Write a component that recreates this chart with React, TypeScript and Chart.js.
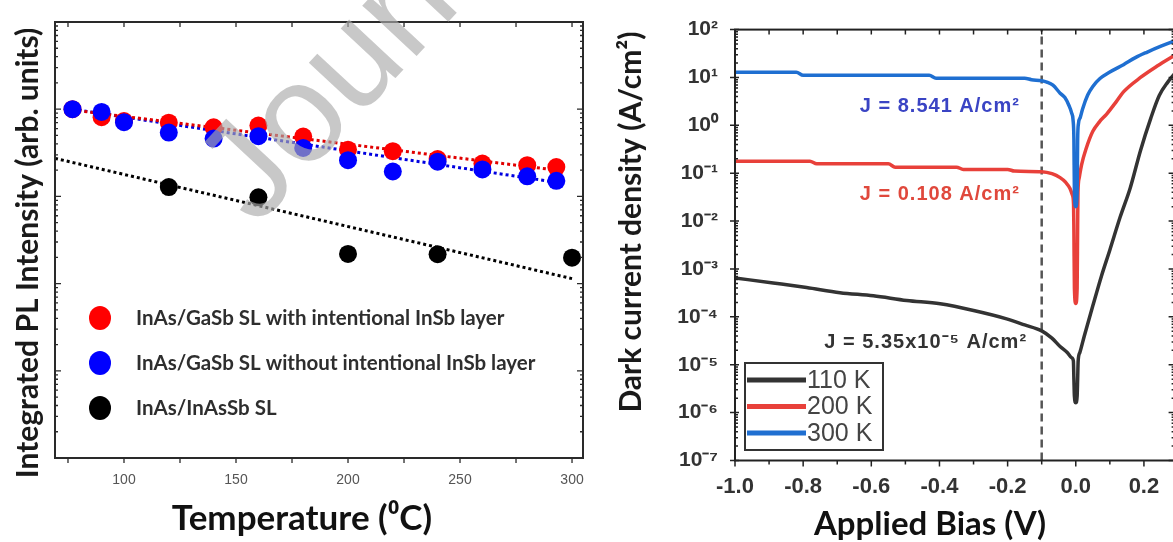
import React, { useEffect, useRef } from "react";
import { Chart, registerables } from "chart.js";

Chart.register(...registerables);

// ---------------- Left panel: integrated PL vs temperature ----------------
const tempWithInSb = [77, 90, 100, 120, 140, 160, 180, 200, 220, 240, 260, 280, 293];
const plWithInSb = [1.0, 0.81, 0.73, 0.7, 0.62, 0.65, 0.485, 0.343, 0.33, 0.268, 0.238, 0.228, 0.217];
const tempWithoutInSb = [77, 90, 100, 120, 140, 160, 180, 200, 220, 240, 260, 280, 293];
const plWithoutInSb = [1.0, 0.93, 0.71, 0.54, 0.46, 0.49, 0.36, 0.26, 0.193, 0.25, 0.204, 0.17, 0.151];
const tempInAsSb = [120, 160, 200, 240, 300];
const plInAsSb = [0.128, 0.0975, 0.0219, 0.0217, 0.0198];
const fitTempGaSb = [77, 293];
const fitPlWithInSb = [0.98, 0.2];
const fitPlWithoutInSb = [1.0, 0.145];
const fitTempInAsSb = [69.2, 300];
const fitPlInAsSb = [0.273, 0.0114];
const plSeriesLabels = [
  "InAs/GaSb SL with intentional InSb layer",
  "InAs/GaSb SL without intentional InSb layer",
  "InAs/InAsSb SL",
];
const tempTickLabels = [100, 150, 200, 250, 300];

// ---------------- Right panel: dark current density vs bias ----------------
const bias110 = [-1.0, -0.888, -0.79, -0.692, -0.594, -0.496, -0.398, -0.3, -0.203, -0.15, -0.1, -0.07, -0.046, -0.025, -0.012, -0.007, -0.0055, -0.004, 0, 0.004, 0.0055, 0.007, 0.012, 0.025, 0.05, 0.075, 0.1, 0.13, 0.16, 0.19, 0.22, 0.245, 0.27, 0.29];
const j110 = [6.5e-4, 5.1e-4, 4.1e-4, 3.2e-4, 2.75e-4, 2.2e-4, 1.87e-4, 1.36e-4, 9.1e-5, 6.8e-5, 5.1e-5, 3.6e-5, 2.4e-5, 1.8e-5, 1.4e-5, 1.2e-5, 5e-6, 2.2e-6, 1.6e-6, 2.2e-6, 5e-6, 1.2e-5, 1.8e-5, 4e-5, 1.7e-4, 7e-4, 2.5e-3, 0.012, 0.05, 0.3, 1.4, 4.2, 8, 12];
const bias200 = [-1.0, -0.78, -0.76, -0.55, -0.53, -0.35, -0.33, -0.2, -0.18, -0.1, -0.07, -0.046, -0.03, -0.017, -0.01, -0.0065, -0.0055, -0.004, 0, 0.004, 0.0055, 0.0065, 0.01, 0.017, 0.03, 0.05, 0.07, 0.09, 0.12, 0.14, 0.19, 0.24, 0.29];
const j200 = [0.178, 0.178, 0.157, 0.157, 0.134, 0.134, 0.12, 0.12, 0.111, 0.108, 0.098, 0.081, 0.065, 0.048, 0.035, 0.022, 0.006, 4e-4, 1.9e-4, 4e-4, 0.008, 0.04, 0.08, 0.15, 0.32, 0.75, 1.2, 1.7, 3.2, 5, 10, 17.5, 29];
const bias300 = [-1.0, -0.82, -0.8, -0.43, -0.41, -0.15, -0.13, -0.1, -0.085, -0.067, -0.046, -0.032, -0.02, -0.012, -0.008, -0.0055, -0.004, 0, 0.004, 0.0055, 0.008, 0.013, 0.02, 0.035, 0.05, 0.071, 0.1, 0.14, 0.175, 0.21, 0.25, 0.29];
const j300 = [12.9, 12.9, 11.1, 11.1, 9.6, 9.6, 9.0, 8.54, 8.0, 6.9, 4.7, 3.8, 2.6, 1.8, 1.3, 0.5, 0.04, 0.02, 0.04, 0.5, 1.1, 1.45, 2.2, 4.3, 6.5, 9.5, 13, 18.5, 26, 34, 45, 58];
const dashBias = [-0.1, -0.1];
const dashJ = [1e-7, 100];
const tempSeriesLabels = ["110 K", "200 K", "300 K"];
const biasTickLabels = [-1.0, -0.8, -0.6, -0.4, -0.2, 0.0, 0.2];
const jTickLabels = [1e-7, 1e-6, 1e-5, 1e-4, 1e-3, 1e-2, 1e-1, 1e0, 1e1, 1e2];
const annotBias = [-0.164, -0.164, -0.143];
const annotJ = [2.48, 0.0367, 2.85e-5];
const annotText = ["J = 8.541 A/cm²", "J = 0.108 A/cm²", "J = 5.35x10⁻⁵ A/cm²"];

// ---------------- helpers ----------------
const SUP: Record<string, string> = { "-": "⁻", "0": "⁰", "1": "¹", "2": "²", "3": "³", "4": "⁴", "5": "⁵", "6": "⁶", "7": "⁷", "8": "⁸", "9": "⁹" };
const sup = (n: number) => String(n).split("").map((c) => SUP[c] || c).join("");
const pts = (xs: number[], ys: number[]) => xs.map((x, i) => ({ x, y: ys[i] }));
const logMinors = (e0: number, e1: number) => {
  const out: number[] = [];
  for (let e = e0; e < e1; e++) for (let k = 2; k <= 9; k++) out.push(k * Math.pow(10, e));
  return out;
};
const range = (a: number, b: number, step: number) => {
  const out: number[] = [];
  const n = Math.round((b - a) / step);
  for (let i = 0; i <= n; i++) out.push(+(a + i * step).toFixed(6));
  return out;
};

// frame + tick marks
const frameTicksPlugin = {
  id: "frameTicks",
  afterDatasetsDraw(chart: any, _a: any, o: any) {
    const { ctx, chartArea } = chart;
    const { left, right, top, bottom } = chartArea;
    const xs = chart.scales.x;
    const ys = chart.scales.y;
    ctx.save();
    ctx.strokeStyle = o.color;
    ctx.lineWidth = o.tickWidth;
    ctx.beginPath();
    (o.bottom || []).forEach((s: any) =>
      s.values.forEach((v: number) => {
        const p = xs.getPixelForValue(v);
        if (p < left - 1 || p > right + 1) return;
        ctx.moveTo(p, bottom - (s.inLen || 0));
        ctx.lineTo(p, bottom + (s.outLen || 0));
      })
    );
    (o.top || []).forEach((s: any) =>
      s.values.forEach((v: number) => {
        const p = xs.getPixelForValue(v);
        if (p < left - 1 || p > right + 1) return;
        ctx.moveTo(p, top + (s.inLen || 0));
        ctx.lineTo(p, top - (s.outLen || 0));
      })
    );
    (o.left || []).forEach((s: any) =>
      s.values.forEach((v: number) => {
        const p = ys.getPixelForValue(v);
        if (p < top - 1 || p > bottom + 1) return;
        ctx.moveTo(left + (s.inLen || 0), p);
        ctx.lineTo(left - (s.outLen || 0), p);
      })
    );
    (o.right || []).forEach((s: any) =>
      s.values.forEach((v: number) => {
        const p = ys.getPixelForValue(v);
        if (p < top - 1 || p > bottom + 1) return;
        ctx.moveTo(right - (s.inLen || 0), p);
        ctx.lineTo(right + (s.outLen || 0), p);
      })
    );
    ctx.stroke();
    ctx.lineWidth = o.frameWidth;
    ctx.strokeRect(left, top, right - left, bottom - top);
    ctx.restore();
  },
};

// free text (titles, annotations)
const textsPlugin = {
  id: "texts",
  afterDraw(chart: any, _a: any, o: any) {
    const { ctx } = chart;
    (o.items || []).forEach((t: any) => {
      ctx.save();
      ctx.font = t.font;
      ctx.fillStyle = t.color;
      ctx.textAlign = t.align || "center";
      ctx.textBaseline = "middle";
      if (t.spacing) (ctx as any).letterSpacing = t.spacing;
      let x = t.x;
      let y = t.y;
      if (t.dataX !== undefined) {
        x = chart.scales.x.getPixelForValue(t.dataX);
        y = chart.scales.y.getPixelForValue(t.dataY);
      }
      ctx.translate(x, y);
      if (t.rotate) ctx.rotate((t.rotate * Math.PI) / 180);
      ctx.fillText(t.text, 0, 0);
      ctx.restore();
    });
  },
};

// legend with round markers (left panel)
const dotLegendPlugin = {
  id: "dotLegend",
  afterDraw(chart: any, _a: any, o: any) {
    const { ctx } = chart;
    ctx.save();
    o.datasets.forEach((di: number, i: number) => {
      const ds = chart.data.datasets[di];
      const y = o.y + i * o.gap;
      ctx.fillStyle = ds.backgroundColor;
      ctx.beginPath();
      ctx.ellipse(o.x, y, o.rx, o.ry, 0, 0, Math.PI * 2);
      ctx.fill();
      ctx.font = o.font;
      ctx.fillStyle = o.color;
      ctx.textAlign = "left";
      ctx.textBaseline = "middle";
      ctx.fillText(ds.label, o.textX, y);
    });
    ctx.restore();
  },
};

// legend with line samples in a box (right panel)
const boxLegendPlugin = {
  id: "boxLegend",
  afterDraw(chart: any, _a: any, o: any) {
    const { ctx } = chart;
    ctx.save();
    ctx.fillStyle = "#ffffff";
    ctx.fillRect(o.x, o.y, o.w, o.h);
    o.datasets.forEach((di: number, i: number) => {
      const ds = chart.data.datasets[di];
      const y = o.rowY + i * o.gap;
      ctx.strokeStyle = ds.borderColor;
      ctx.lineWidth = o.lineWidth;
      ctx.beginPath();
      ctx.moveTo(o.x + 2, y);
      ctx.lineTo(o.x + o.lineLen, y);
      ctx.stroke();
      ctx.font = o.font;
      ctx.fillStyle = o.color;
      ctx.textAlign = "left";
      ctx.textBaseline = "middle";
      ctx.fillText(ds.label, o.x + o.lineLen + 1, y + 1);
    });
    ctx.strokeStyle = o.borderColor;
    ctx.lineWidth = 2;
    ctx.strokeRect(o.x, o.y, o.w, o.h);
    ctx.restore();
  },
};

// journal watermark
const watermarkPlugin = {
  id: "watermark",
  afterDraw(chart: any, _a: any, o: any) {
    const { ctx } = chart;
    ctx.save();
    ctx.font = o.font;
    ctx.fillStyle = o.color;
    ctx.textAlign = "left";
    ctx.textBaseline = "alphabetic";
    ctx.translate(o.x, o.y);
    ctx.rotate((o.angle * Math.PI) / 180);
    ctx.fillText(o.text, 0, 0);
    ctx.restore();
  },
};

const TITLE_FONT = "Lato, 'Open Sans', sans-serif";

function leftConfig(): any {
  const dot = (label: string, xs: number[], ys: number[], color: string, order: number) => ({
    label,
    data: pts(xs, ys),
    backgroundColor: color,
    borderWidth: 0,
    pointRadius: 9,
    pointHoverRadius: 9,
    showLine: false,
    order,
  });
  const fit = (xs: number[], ys: number[], color: string, order: number) => ({
    label: "",
    data: pts(xs, ys),
    borderColor: color,
    borderWidth: 3,
    borderDash: [3, 3],
    pointRadius: 0,
    showLine: true,
    order,
  });
  return {
    type: "scatter",
    data: {
      datasets: [
        dot(plSeriesLabels[0], tempWithInSb, plWithInSb, "#ff0000", 2),
        dot(plSeriesLabels[1], tempWithoutInSb, plWithoutInSb, "#0000ff", 1),
        dot(plSeriesLabels[2], tempInAsSb, plInAsSb, "#000000", 3),
        fit(fitTempGaSb, fitPlWithInSb, "#e00000", 5),
        fit(fitTempGaSb, fitPlWithoutInSb, "#0000e0", 6),
        fit(fitTempInAsSb, fitPlInAsSb, "#000000", 7),
      ],
    },
    options: {
      animation: false,
      responsive: false,
      devicePixelRatio: 1,
      layout: { padding: { left: 0, top: 22, right: 17, bottom: 0 } },
      plugins: {
        legend: { display: false },
        tooltip: { enabled: false },
        frameTicks: {
          color: "#2a2a2a",
          tickWidth: 1.3,
          frameWidth: 2,
          bottom: [{ values: range(75, 300, 25), outLen: 5 }],
          top: [{ values: range(75, 300, 25), inLen: 5 }],
          left: [
            { values: [1e-3, 1e-2, 1e-1, 1], inLen: 6 },
            { values: logMinors(-4, 1), inLen: 3 },
          ],
          right: [
            { values: [1e-3, 1e-2, 1e-1, 1], inLen: 6 },
            { values: logMinors(-4, 1), inLen: 3 },
          ],
        },
        dotLegend: {
          datasets: [0, 1, 2],
          x: 100,
          y: 318,
          gap: 45,
          rx: 11,
          ry: 12,
          textX: 136,
          font: "bold 20.5px " + TITLE_FONT,
          color: "#2e2e2e",
        },
        texts: {
          items: [
            { text: "Integrated PL Intensity (arb. units)", x: 28, y: 253, rotate: -90, font: "bold 30px " + TITLE_FONT, color: "#1a1a1a" },
            { text: "Temperature (⁰C)", x: 302, y: 519, font: "bold 35px " + TITLE_FONT, color: "#111111" },
          ],
        },
        watermark: {
          text: "Journal Pre-proof",
          x: 256,
          y: 228,
          angle: -47,
          font: "140px 'Liberation Sans', Arial, sans-serif",
          color: "rgba(170,170,170,0.65)",
        },
      },
      scales: {
        x: {
          type: "linear",
          min: 69.2,
          max: 304.9,
          grid: { display: false, drawTicks: false },
          border: { display: false },
          afterFit: (s: any) => {
            s.height = 84;
          },
          afterBuildTicks: (s: any) => {
            s.ticks = tempTickLabels.map((v) => ({ value: v }));
          },
          ticks: {
            padding: 14,
            autoSkip: false,
            maxRotation: 0,
            color: "#555555",
            font: { family: "'Liberation Sans', Arial, sans-serif", size: 14 },
          },
        },
        y: {
          type: "logarithmic",
          min: 1e-4,
          max: 10,
          grid: { display: false, drawTicks: false },
          border: { display: false },
          afterFit: (s: any) => {
            s.width = 55;
          },
          ticks: { display: false },
        },
      },
    },
    plugins: [frameTicksPlugin, dotLegendPlugin, textsPlugin, watermarkPlugin],
  };
}

function rightConfig(): any {
  const curve = (label: string, xs: number[], ys: number[], color: string, order: number) => ({
    label,
    data: pts(xs, ys),
    borderColor: color,
    backgroundColor: color,
    borderWidth: 3.5,
    pointRadius: 0,
    showLine: true,
    cubicInterpolationMode: "monotone",
    order,
  });
  return {
    type: "scatter",
    data: {
      datasets: [
        curve(tempSeriesLabels[0], bias110, j110, "#333333", 3),
        curve(tempSeriesLabels[1], bias200, j200, "#e8403a", 2),
        curve(tempSeriesLabels[2], bias300, j300, "#1f6fd1", 1),
        {
          label: "",
          data: pts(dashBias, dashJ),
          borderColor: "#555555",
          borderWidth: 2.5,
          borderDash: [8, 5],
          pointRadius: 0,
          showLine: true,
          order: 4,
        },
      ],
    },
    options: {
      animation: false,
      responsive: false,
      devicePixelRatio: 1,
      layout: { padding: { left: 0, top: 18, right: 25.4, bottom: 0 } },
      plugins: {
        legend: { display: false },
        tooltip: { enabled: false },
        frameTicks: {
          color: "#222222",
          tickWidth: 1.5,
          frameWidth: 2,
          bottom: [
            { values: biasTickLabels, outLen: 6 },
            { values: range(-0.9, 0.1, 0.2), outLen: 4 },
          ],
          top: [{ values: range(-1.0, 0.2, 0.1), inLen: 5 }],
          left: [
            { values: jTickLabels, inLen: 4, outLen: 5 },
            { values: logMinors(-7, 2), inLen: 3 },
          ],
          right: [
            { values: jTickLabels, inLen: 6 },
            { values: logMinors(-7, 2), inLen: 3 },
          ],
        },
        boxLegend: {
          datasets: [0, 1, 2],
          x: 145,
          y: 363,
          w: 138,
          h: 87,
          rowY: 380,
          gap: 26.5,
          lineLen: 61,
          lineWidth: 5,
          font: "25px 'Liberation Sans', Arial, sans-serif",
          color: "#444444",
          borderColor: "#333333",
        },
        texts: {
          items: [
            { text: "Dark current density (A/cm²)", x: 31, y: 222, rotate: -90, font: "bold 30px " + TITLE_FONT, color: "#1a1a1a" },
            { text: "Applied Bias (V)", x: 330, y: 524, font: "bold 33px " + TITLE_FONT, color: "#111111" },
            { text: annotText[0], dataX: annotBias[0], dataY: annotJ[0], align: "right", font: "bold 20px 'Liberation Sans', Arial, sans-serif", color: "#3a44c4", spacing: "1px" },
            { text: annotText[1], dataX: annotBias[1], dataY: annotJ[1], align: "right", font: "bold 20px 'Liberation Sans', Arial, sans-serif", color: "#e0483c", spacing: "1px" },
            { text: annotText[2], dataX: annotBias[2], dataY: annotJ[2], align: "right", font: "bold 20px 'Liberation Sans', Arial, sans-serif", color: "#333333", spacing: "1px" },
          ],
        },
      },
      scales: {
        x: {
          type: "linear",
          min: -1.0,
          max: 0.29,
          grid: { display: false, drawTicks: false },
          border: { display: false },
          afterFit: (s: any) => {
            s.height = 81.5;
          },
          afterBuildTicks: (s: any) => {
            s.ticks = biasTickLabels.map((v) => ({ value: v }));
          },
          ticks: {
            padding: 13,
            autoSkip: false,
            maxRotation: 0,
            color: "#333333",
            font: { family: "'Liberation Sans', Arial, sans-serif", size: 22, weight: "bold" },
            callback: (v: any) => Number(v).toFixed(1),
          },
        },
        y: {
          type: "logarithmic",
          min: 1e-7,
          max: 100,
          grid: { display: false, drawTicks: false },
          border: { display: false },
          afterFit: (s: any) => {
            s.width = 135;
          },
          afterBuildTicks: (s: any) => {
            s.ticks = jTickLabels.map((v) => ({ value: v }));
          },
          ticks: {
            padding: 17,
            autoSkip: false,
            color: "#333333",
            font: { family: "'Liberation Sans', Arial, sans-serif", size: 21, weight: "bold" },
            callback: (v: any) => "10" + sup(Math.round(Math.log10(Number(v)))),
          },
        },
      },
    },
    plugins: [frameTicksPlugin, boxLegendPlugin, textsPlugin],
  };
}

export default function App() {
  const leftRef = useRef<HTMLCanvasElement>(null);
  const rightRef = useRef<HTMLCanvasElement>(null);
  useEffect(() => {
    document.body.style.margin = "0";
    const c1 = new Chart(leftRef.current as HTMLCanvasElement, leftConfig());
    const c2 = new Chart(rightRef.current as HTMLCanvasElement, rightConfig());
    return () => {
      c1.destroy();
      c2.destroy();
    };
  }, []);
  return (
    <div style={{ position: "fixed", left: 0, top: 0, width: 1173, height: 542, overflow: "hidden", background: "#ffffff" }}>
      <canvas ref={leftRef} width={600} height={542} style={{ position: "absolute", left: 0, top: 0, width: 600, height: 542 }} />
      <canvas ref={rightRef} width={600} height={542} style={{ position: "absolute", left: 600, top: 0, width: 600, height: 542 }} />
    </div>
  );
}
